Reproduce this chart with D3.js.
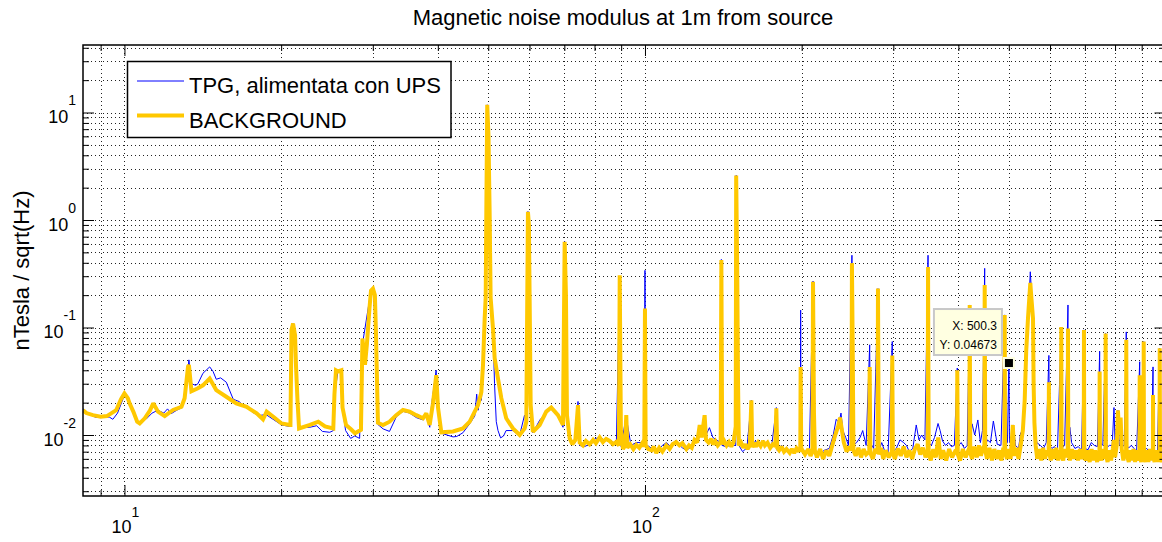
<!DOCTYPE html>
<html>
<head>
<meta charset="utf-8">
<script src="https://cdn.jsdelivr.net/npm/d3@7"></script>
<style>
  body { margin: 0; background: #fff; }
  svg { display: block; font-family: "Liberation Sans", Arial, Helvetica, sans-serif; }
</style>
</head>
<body>
<svg id="chart" width="1162" height="542"></svg>
<script>
"use strict";

// [frequency Hz, nTesla/sqrt(Hz)]
const bgLow = [
  [8.33,0.0170],[8.45,0.0160],[8.7,0.0153],[9.0,0.0148],[9.25,0.0150],[9.43,0.0159],[9.64,0.0170],[9.85,0.0215],
  [10.0,0.0244],[10.15,0.0220],[10.23,0.0197],[10.4,0.0165],[10.58,0.0133],[10.7,0.0128],[10.94,0.0143],[11.2,0.0170],
  [11.36,0.0197],[11.6,0.0165],[11.95,0.0150],[12.4,0.0171],[12.87,0.0183],[13.05,0.0220],[13.25,0.0435],[13.3,0.0449],
  [13.45,0.0255],[13.84,0.0272],[14.15,0.0290],[14.58,0.0335],[15.01,0.0262],[15.69,0.0227],[16.4,0.0197],[17.17,0.0183],
  [17.4,0.0175],[17.95,0.0159],[18.46,0.0140],[18.76,0.0165],[19.32,0.0148],[20.04,0.0128],[20.8,0.0124],
  [20.84,0.0124],[20.94,0.095],[21.08,0.109],[21.27,0.085],[21.36,0.044],[21.5,0.021],[21.65,0.0115],
  [22.72,0.0124],[23.57,0.0133],[24.28,0.0120],[25.19,0.0115],
  [25.32,0.024],[25.49,0.040],[25.72,0.039],[26.1,0.040],[26.24,0.018],[26.65,0.0124],[27.24,0.0113],[27.73,0.0104],[28.47,0.0112],
  [28.66,0.079],[28.98,0.045],[29.23,0.070],[29.56,0.150],[29.76,0.220],[30.02,0.230],[30.28,0.200],[30.42,0.090],[30.69,0.013],
  [31.38,0.0124],[32.31,0.0133],[33.27,0.0153],[34.28,0.0171],[35.31,0.0165],[36.36,0.0153],[37.46,0.0143],[38.01,0.0159],
  [38.58,0.0124],[39.15,0.0197],[39.72,0.036],[40.03,0.018],[40.62,0.0106],[42.77,0.0108],[44.71,0.0115]
];

const bgMid = [
  [46.06,0.0133],[47.09,0.0165],[47.78,0.0190],[48.49,0.0250],[48.85,0.0448],[49.21,0.122],[49.43,0.19],[49.57,1.19],
  [49.77,11.8],[50.05,6.0],[50.3,1.19],[50.52,0.19],[51.05,0.098],[51.43,0.052],[52.19,0.0336],[52.97,0.022],[54.13,0.0143],
  [55.77,0.0115],[57.45,0.0100],[58.73,0.0115],[59.16,0.0133],[59.59,1.19],[59.85,0.9],[60.31,0.019],[60.92,0.0107],
  [62.76,0.0124],[64.62,0.0165],[66.07,0.0180],[68.06,0.0153],[69.58,0.0124],[70.1,0.627],[70.5,0.20],[70.82,0.0153],
  [71.67,0.0093],[72.5,0.0082],[73.5,0.0090],[74.36,0.019],[74.91,0.0085],[76,0.0080],[77,0.0088],[78.27,0.0082],
  [79.5,0.0090],[80.5,0.0084],[81.84,0.0095],[83,0.0086],[84.2,0.0092],[85.54,0.0088],[86.8,0.0082],[88.1,0.0086],
  [89.1,0.0080],[89.43,0.306],[89.9,0.011],[90.74,0.0074],[91.6,0.0080],[92.06,0.0153],[92.5,0.0076],[93.7,0.0082],
  [95,0.0074],[96.23,0.0081],[97.5,0.0076],[98.8,0.0084],[99.7,0.0078],[100,0.15],[100.3,0.0080],[101.5,0.0074],
  [103,0.0072],[104,0.0078],[105.1,0.0068],[106.5,0.0076],[108,0.0070],[109.9,0.0080],[111.5,0.0074],[113,0.0082],
  [114.8,0.0086],[116.5,0.0080],[118,0.0084],[120.1,0.0074],[121.5,0.0080],[123,0.0076],[124.5,0.0090],[126,0.0085],
  [127.4,0.0124],[128.5,0.0095],[130.2,0.0153],[131,0.0090],[132.5,0.0085],[134,0.0092],[135.1,0.0082],[136.5,0.0088],
  [138,0.0080],[139.8,0.0086],[140.2,0.425],[140.7,0.0082],[142,0.0088],[143.5,0.0080],[145,0.0086],[146.5,0.0078],
  [148,0.0086],[149.4,0.0120],[149.7,2.6],[150.4,0.34],[150.9,0.0336],[151.5,0.0080],[153,0.0085],[154.5,0.0076],
  [156,0.0082],[157.5,0.0074],[159,0.0080],[160.1,0.021],[160.7,0.0077],[162,0.0084],[163.5,0.0078],[165,0.0085],
  [166.8,0.0079],[168.6,0.0088],[170,0.0080],[172,0.0085],[174,0.0076],[176,0.0082],[178,0.0079],[178.8,0.0177],
  [179.5,0.0076],[181,0.0072],[183,0.0078],[185,0.0070],[187,0.0074],[189.7,0.0068],[191.5,0.0074],[193.5,0.0068],
  [195.5,0.0075],[197.5,0.0070],[198.8,0.0077],[199.1,0.043],[199.6,0.0075]
];

const bgHigh = [
  [203,0.0066],[206,0.0074],[208,0.0064],[209.8,0.0070],[210.3,0.267],[211.2,0.016],[212,0.0072],
  [214,0.0062],[217,0.0074],[220,0.0060],[223,0.0072],[226,0.0064],[229,0.0080],[232,0.0100],[235,0.0120],[237,0.0145],
  [239,0.0110],[241,0.0085],[244,0.0070],[247,0.0078],[249.3,0.0072],[249.8,0.397],[250.7,0.060],[251.5,0.0072],
  [254,0.0064],[257,0.0076],[260,0.0062],[263,0.0074],[266,0.0066],[269.7,0.0070],[270.2,0.043],[271,0.0068],
  [274,0.0060],[277,0.0074],[279.8,0.0068],[280.3,0.230],[281.3,0.0066],[284,0.0076],[287,0.0060],[290,0.0072],
  [294,0.0062],[298.1,0.0070],[298.6,0.055],[299.4,0.0068],[302,0.0060],[306,0.0075],[310,0.0064],[314,0.0078],
  [318,0.0062],[322,0.0072],[326,0.0060],[330,0.0074],[334,0.0082],[338,0.0066],[342,0.0076],[346,0.0062],
  [349.3,0.0072],[349.8,0.366],[350.8,0.0068],[354,0.0058],[358,0.0074],[362,0.0062],[366,0.0095],[370,0.0060],
  [374,0.0072],[379,0.0058],[384,0.0074],[389,0.0062],[394,0.0070],[397.6,0.0068],[398.1,0.040],[399,0.0066],
  [403,0.0058],[408,0.0074],[413,0.0062],[418,0.0072],[420.1,0.0070],[420.6,0.162],[421.6,0.0068],[425,0.0060],
  [429,0.0078],[434,0.0062],[438,0.0080],[442,0.0064],[446,0.0076],[448.9,0.0080],[449.4,0.248],[450.5,0.0072],
  [454,0.0060],[459,0.0076],[464,0.0058],[469,0.0074],[474,0.0060],[479,0.0072],[484,0.0058],[488,0.0076],
  [490.4,0.0070],[491,0.131],[492,0.0068],[496,0.0060],[500,0.0074],[504,0.0060],[509,0.0124],[512,0.0064],
  [517,0.0076],[522,0.0060],[527,0.0080],[532,0.0110],[536.4,0.021],[540,0.060],[544.3,0.122],[549.9,0.260],
  [552,0.200],[556.5,0.122],[558,0.030],[560,0.013],[563,0.0080],[567,0.0060],[572,0.0074],[577,0.0058],
  [582,0.0076],[587,0.0060],[592,0.0072],[596.4,0.0066],[597,0.031],[598,0.0068],[602,0.0058],[607,0.0074],
  [612,0.0060],[617,0.0076],[622,0.0058],[627,0.0072],[630,0.0066],[630.6,0.101],[631.5,0.0064],[636,0.0058],
  [641,0.0074],[645,0.0062],[649,0.0070],[649.6,0.098],[650.5,0.0068],[655,0.0058],[661,0.0074],[667,0.0060],
  [673,0.0072],[679,0.0058],[685,0.0074],[691,0.0060],[696.6,0.0068],[697.2,0.095],[698.2,0.0066],[703,0.0058],
  [709,0.0072],[715,0.0056],[721,0.0074],[727,0.0058],[733,0.0072],[739,0.0056],[744,0.0070],[746.7,0.0066],
  [747.3,0.039],[748.3,0.0064],[753,0.0058],[758,0.0074],[763,0.0060],[766.8,0.0068],[767.4,0.088],[768.4,0.0066],
  [774,0.0056],[780,0.0072],[786,0.0058],[792,0.0074],[796,0.0090],[800,0.0062],[806,0.0080],[810.3,0.017],
  [814,0.0110],[820,0.0145],[824,0.0074],[830,0.0058],[835,0.0072],[840,0.0068],[840.7,0.077],[842,0.0066],
  [850,0.0056],[856,0.0072],[862,0.0058],[868,0.0074],[874,0.0056],[880,0.0072],[886,0.0058],[891.5,0.0066],
  [892.1,0.036],[893,0.0064],[898,0.0056],[903,0.0072],[907.5,0.0066],[908.1,0.074],[909,0.0064],[915,0.0056],
  [921,0.0072],[927,0.0056],[933,0.0074],[939,0.0058],[943,0.0072],[945.7,0.0066],[946.3,0.0236],[947.2,0.0064],
  [953,0.0056],[959,0.0072],[965,0.0056],[970,0.0072],[974.2,0.0068],[974.8,0.064],[976,0.0066],[983,0.0056],
  [990,0.0072],[1000,0.0060]
];

const tpgLow = [
  [8.33,0.0175],[8.5,0.0160],[8.8,0.0146],[9.1,0.0146],[9.35,0.0147],[9.5,0.0140],[9.7,0.0160],[10.0,0.0235],
  [10.25,0.0195],[10.6,0.0130],[11.0,0.0140],[11.3,0.0160],[11.6,0.0170],[11.9,0.0160],[12.1,0.0175],[12.3,0.0158],
  [12.6,0.0170],[12.9,0.0180],[13.1,0.0230],[13.3,0.050],[13.45,0.030],[13.7,0.0290],[13.84,0.030],[14.15,0.0375],
  [14.58,0.043],[14.8,0.039],[15.01,0.033],[15.3,0.034],[15.69,0.031],[16.18,0.0215],[16.6,0.0205],[17.1,0.0180],
  [17.4,0.0175],[17.7,0.0160],[18.2,0.0152],[18.7,0.0155],[19.3,0.0140],[20.04,0.0124],[20.8,0.0120],
  [20.94,0.095],[21.08,0.109],[21.36,0.044],[21.65,0.0112],[22.0,0.0117],[22.7,0.0118],[23.4,0.0122],[24.0,0.0108],
  [24.8,0.0106],[25.2,0.0110],[25.32,0.0226],[25.7,0.039],[26.1,0.039],[26.3,0.016],[26.6,0.0110],[27.2,0.0093],
  [27.7,0.0098],[28.3,0.0093],[28.66,0.070],[29.76,0.220],[30.02,0.230],[30.42,0.090],[30.7,0.0125],[31.4,0.0114],
  [32.3,0.0108],[33.3,0.0148],[34.3,0.0166],[35.3,0.0160],[36.4,0.0145],[37.5,0.0138],[38.0,0.0150],[38.6,0.0118],
  [38.9,0.0190],[39.7,0.040],[40.0,0.017],[40.6,0.0104],[42.8,0.0096],[43.5,0.0097],[44.7,0.0105]
];

const tpgMid = [
  [46.1,0.0128],[47.1,0.0150],[47.5,0.024],[47.8,0.017],[48.3,0.025],[48.5,0.021],[48.85,0.045],[49.2,0.12],
  [49.57,1.2],[49.77,11.8],[50.3,1.2],[50.52,0.2],[51.05,0.10],[51.4,0.03],[51.8,0.0133],[52.2,0.011],[52.8,0.0094],
  [53.5,0.0098],[54.1,0.0110],[55.8,0.0110],[57.4,0.0098],[58.7,0.0153],[59.2,0.0125],[59.59,1.2],[60.3,0.019],
  [60.9,0.0105],[62.8,0.0138],[64.6,0.0160],[66.1,0.0178],[68.1,0.0150],[69.6,0.0118],[70.1,0.63],[70.8,0.015],
  [71.7,0.0090],[73.5,0.0085],[74.36,0.0205],[74.9,0.0080],[76.5,0.0078],[78.3,0.0082],[80,0.0092],[81.8,0.0095],
  [83.5,0.0090],[85.5,0.0090],[88.1,0.0082],[89.43,0.30],[90.0,0.0078],[92.0,0.0150],[94,0.0080],[96.2,0.0085],
  [99.6,0.0085],[100,0.34],[100.4,0.0082],[103,0.0075],[105,0.0069],[108,0.0080],[110,0.0085],[112,0.0078],
  [115,0.0085],[118,0.0076],[120,0.0072],[124,0.0080],[127,0.0110],[130,0.0120],[131,0.0100],[133,0.0117],
  [135,0.0095],[139.8,0.0085],[140.2,0.43],[140.6,0.0080],[143,0.0078],[146,0.0080],[149.4,0.0080],[149.7,2.6],
  [150.9,0.030],[151.5,0.0080],[154,0.0070],[157,0.0076],[160.1,0.021],[160.6,0.0078],[163,0.0088],[165,0.0083],
  [168,0.0086],[172,0.0082],[175,0.0076],[178.8,0.018],[179.5,0.0072],[183,0.0080],[186,0.0070],[190,0.0072],
  [195,0.0071],[198.8,0.0075],[199.1,0.145],[199.5,0.0075]
];

const tpgHigh = [
  [203,0.0070],[207,0.0075],[210.3,0.27],[211.5,0.0072],[216,0.0066],[221,0.0072],[226,0.0075],[230,0.0100],
  [233,0.0140],[236,0.0130],[238,0.0160],[240,0.0110],[243,0.0095],[246,0.0080],[249.8,0.47],[250.7,0.0080],
  [255,0.0085],[259,0.0095],[262,0.0110],[266,0.0080],[270.2,0.069],[271,0.0085],[275,0.0075],[280.3,0.23],
  [281,0.0070],[285,0.0085],[289,0.0070],[293,0.0065],[298.6,0.074],[299.5,0.0070],[304,0.0075],[309,0.0090],
  [314,0.0085],[318,0.0080],[322,0.0070],[327,0.0075],[332,0.0124],[336,0.0090],[340,0.0100],[345,0.0090],
  [349.8,0.47],[350.8,0.0085],[355,0.0080],[360,0.0095],[365.6,0.0128],[369,0.0110],[373,0.0088],[378,0.0080],
  [383,0.0085],[388,0.0078],[393,0.0080],[398.1,0.042],[399,0.0078],[405,0.0085],[411,0.0075],[416,0.0080],
  [420.6,0.162],[421.6,0.0080],[425,0.0127],[430,0.0100],[436,0.0138],[441,0.0085],[445,0.0110],[449.4,0.355],
  [450.5,0.0080],[455,0.0090],[461,0.0085],[467,0.0135],[475,0.0082],[483,0.0080],[491,0.131],[492,0.0080],
  [497,0.0085],[500.3,0.04673],[501.5,0.0085],[505,0.0090],[510,0.0124],[515,0.0080],[522,0.0075],[527,0.0105],
  [530,0.0085],[536.4,0.021],[544.3,0.12],[549.9,0.33],[556.5,0.12],[560,0.0127],[566,0.0085],[575,0.0080],
  [583,0.0075],[590,0.0085],[597,0.055],[598.5,0.0080],[605,0.0075],[612,0.0078],[620,0.0070],[630.6,0.101],
  [632,0.0075],[640,0.0080],[649.6,0.162],[651,0.0085],[655,0.0118],[660,0.0085],[670,0.0075],[680,0.0078],
  [690,0.0072],[697.2,0.095],[699,0.0075],[710,0.0073],[720,0.0085],[730,0.0080],[740,0.0078],[747.3,0.060],
  [749,0.0085],[758,0.0080],[767.4,0.088],[769,0.0075],[780,0.0080],[790,0.0080],[796.2,0.018],[800,0.0085],
  [810.3,0.017],[815,0.0082],[825,0.0078],[833,0.0080],[840.7,0.091],[842.5,0.0080],[850,0.0076],[860,0.0080],
  [870,0.0075],[880,0.0070],[892.1,0.048],[893.5,0.0078],[900,0.0082],[908.1,0.074],[909.5,0.0072],[920,0.0075],
  [930,0.0070],[940,0.0075],[946.3,0.043],[947.5,0.0075],[955,0.0072],[965,0.0070],[974.8,0.064],[976,0.0070],
  [990,0.0068],[1000,0.0070]
];

const seriesNames = ["TPG, alimentata con UPS", "BACKGROUND"];
const seriesColors = ["#0000ff", "#ffc800"];
const xLabelTicks = [10, 100];
const yLabelTicks = [0.01, 0.1, 1, 10];
const tipPoint = [500.3, 0.04673];

const LEFT = 83, RIGHT = 1165.5, TOP = 45, BOTTOM = 496;
const MAJOR = 11, MINOR = 6;

const svg = d3.select("#chart");

const x = d3.scaleLog().domain([8.325, 1000]).range([LEFT, RIGHT]);
const y = d3.scaleLog().domain([Math.pow(10, -2.5674), Math.pow(10, 1.628)]).range([BOTTOM, TOP]);

const isMajor = v => Math.abs(Math.log10(v) - Math.round(Math.log10(v))) < 1e-9;

svg.append("defs").append("clipPath").attr("id", "plotClip")
  .append("rect").attr("x", LEFT).attr("y", TOP).attr("width", RIGHT - LEFT).attr("height", BOTTOM - TOP);

// dotted grid
const grid = svg.append("g").attr("stroke", "#222").attr("stroke-width", 1).attr("stroke-dasharray", "1,3");
grid.selectAll(".gx").data(x.ticks()).enter().append("line")
  .attr("x1", d => Math.round(x(d)) + 0.5).attr("x2", d => Math.round(x(d)) + 0.5)
  .attr("y1", TOP).attr("y2", BOTTOM);
grid.selectAll(".gy").data(y.ticks()).enter().append("line")
  .attr("y1", d => Math.round(y(d)) + 0.5).attr("y2", d => Math.round(y(d)) + 0.5)
  .attr("x1", LEFT).attr("x2", RIGHT);

// data
const line = d3.line().x(d => x(d[0])).y(d => y(d[1]));
const plot = svg.append("g").attr("clip-path", "url(#plotClip)").attr("fill", "none")
  .attr("stroke-linejoin", "miter").attr("stroke-miterlimit", 2);

plot.append("path").datum(tpgLow.concat(tpgMid, tpgHigh))
  .attr("d", line).attr("stroke", seriesColors[0]).attr("stroke-width", 1);
plot.append("path").datum(bgLow.concat(bgMid, bgHigh))
  .attr("d", line).attr("stroke", seriesColors[1]).attr("stroke-width", 4);

// ticks on all four sides, pointing inward
function ticks(axis, scale, transform, attr, sign) {
  const g = svg.append("g").attr("transform", transform)
    .call(axis(scale).tickValues(scale.ticks()).tickSizeOuter(0).tickFormat(""));
  g.select(".domain").remove();
  g.selectAll(".tick line").attr("stroke", "#000").attr("stroke-width", 1)
    .attr(attr, d => sign * (isMajor(d) ? MAJOR : MINOR));
}
ticks(d3.axisBottom, x, `translate(0,${BOTTOM})`, "y2", -1);
ticks(d3.axisTop, x, `translate(0,${TOP})`, "y2", 1);
ticks(d3.axisLeft, y, `translate(${LEFT},0)`, "x2", 1);
ticks(d3.axisRight, y, `translate(${RIGHT},0)`, "x2", -1);

svg.append("rect").attr("x", LEFT).attr("y", TOP).attr("width", RIGHT - LEFT).attr("height", BOTTOM - TOP)
  .attr("fill", "none").attr("stroke", "#000").attr("stroke-width", 1.5);

// tick labels 10^n
svg.selectAll(".ylab").data(yLabelTicks).enter().append("text")
  .attr("x", 76).attr("y", d => y(d) + 10.5).attr("text-anchor", "end")
  .attr("font-size", 18).attr("fill", "#000")
  .each(function(d) {
    const t = d3.select(this);
    t.append("tspan").text("10");
    t.append("tspan").attr("dy", -18).attr("font-size", 14).text(Math.round(Math.log10(d)));
  });

svg.selectAll(".xlab").data(xLabelTicks).enter().append("text")
  .attr("x", d => x(d) + 1).attr("y", 533).attr("text-anchor", "middle")
  .attr("font-size", 18).attr("fill", "#000")
  .each(function(d) {
    const t = d3.select(this);
    t.append("tspan").text("10");
    t.append("tspan").attr("dy", -16).attr("font-size", 14).text(Math.round(Math.log10(d)));
  });

// title and y label
svg.append("text").attr("x", 623).attr("y", 25).attr("text-anchor", "middle")
  .attr("font-size", 22).attr("fill", "#000").text("Magnetic noise modulus at 1m from source");
svg.append("text").attr("transform", `translate(29,${(TOP + BOTTOM) / 2}) rotate(-90)`)
  .attr("text-anchor", "middle").attr("font-size", 22).attr("fill", "#000").text("nTesla / sqrt(Hz)");

// legend
const legend = svg.append("g");
legend.append("rect").attr("x", 127.5).attr("y", 61.5).attr("width", 323.5).attr("height", 76)
  .attr("fill", "#fff").attr("stroke", "#000").attr("stroke-width", 1.5);
seriesNames.forEach((name, i) => {
  const ly = 81 + i * 34.5;
  legend.append("line").attr("x1", 137).attr("x2", 184).attr("y1", ly).attr("y2", ly)
    .attr("stroke", seriesColors[i]).attr("stroke-width", i === 0 ? 1 : 4);
  legend.append("text").attr("x", 189).attr("y", ly + 12).attr("font-size", 22).attr("fill", "#000").text(name);
});

// data tip on the TPG trace
const tx = x(tipPoint[0]), ty = y(tipPoint[1]);
const tip = svg.append("g");
tip.append("rect").attr("x", tx - 75).attr("y", ty - 54).attr("width", 68).attr("height", 46)
  .attr("fill", "#ffffe1").attr("stroke", "#c8c8c8").attr("stroke-width", 2);
tip.append("text").attr("x", tx - 12).attr("y", ty - 33).attr("text-anchor", "end")
  .attr("font-size", 12).attr("fill", "#000").text("X: " + tipPoint[0]);
tip.append("text").attr("x", tx - 12).attr("y", ty - 14).attr("text-anchor", "end")
  .attr("font-size", 12).attr("fill", "#000").text("Y: " + tipPoint[1]);
tip.append("rect").attr("x", tx - 5).attr("y", ty - 5).attr("width", 10).attr("height", 10)
  .attr("fill", "#000").attr("stroke", "#ffffe1").attr("stroke-width", 2);
</script>
</body>
</html>
